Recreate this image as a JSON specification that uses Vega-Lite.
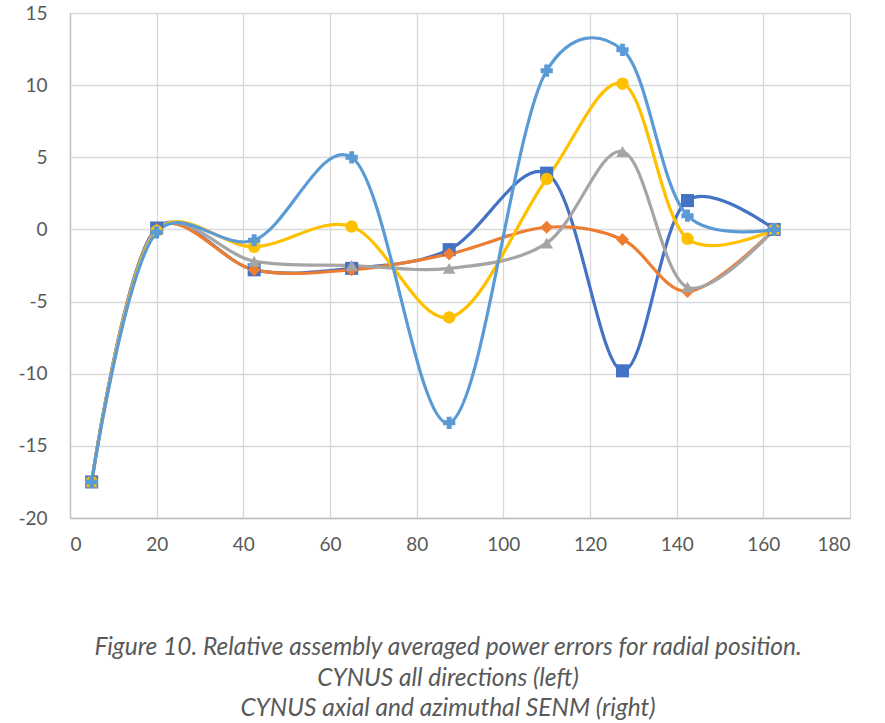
{
  "$schema": "https://vega.github.io/schema/vega-lite/v6.json",
  "width": 780,
  "height": 505,
  "autosize": "none",
  "padding": {"left": 70, "top": 13, "right": 35, "bottom": 205},
  "background": "white",
  "config": {"view": {"stroke": null}, "font": "Lato"},
  "title": {
    "text": ["Figure 10. Relative assembly averaged power errors for radial position.", "CYNUS all directions (left)", "CYNUS axial and azimuthal SENM (right)"],
    "orient": "bottom",
    "anchor": "middle",
    "dx": -12,
    "offset": 82,
    "font": "Lato",
    "fontSize": 24.5,
    "fontStyle": "italic",
    "fontWeight": "normal",
    "color": "#595959",
    "lineHeight": 30.5
  },
  "data": {"values": [
    {"s": "s1", "x": 5, "y": -17.5}, {"s": "s1", "x": 20, "y": 0.1}, {"s": "s1", "x": 42.5, "y": -2.8}, {"s": "s1", "x": 65, "y": -2.7}, {"s": "s1", "x": 87.5, "y": -1.4}, {"s": "s1", "x": 110, "y": 3.9}, {"s": "s1", "x": 127.5, "y": -9.8}, {"s": "s1", "x": 142.5, "y": 2.0}, {"s": "s1", "x": 162.5, "y": 0},
    {"s": "s2", "x": 5, "y": -17.5}, {"s": "s2", "x": 20, "y": 0}, {"s": "s2", "x": 42.5, "y": -2.8}, {"s": "s2", "x": 65, "y": -2.8}, {"s": "s2", "x": 87.5, "y": -1.7}, {"s": "s2", "x": 110, "y": 0.15}, {"s": "s2", "x": 127.5, "y": -0.7}, {"s": "s2", "x": 142.5, "y": -4.3}, {"s": "s2", "x": 162.5, "y": 0},
    {"s": "s3", "x": 5, "y": -17.5}, {"s": "s3", "x": 20, "y": 0}, {"s": "s3", "x": 42.5, "y": -2.2}, {"s": "s3", "x": 65, "y": -2.5}, {"s": "s3", "x": 87.5, "y": -2.7}, {"s": "s3", "x": 110, "y": -0.95}, {"s": "s3", "x": 127.5, "y": 5.4}, {"s": "s3", "x": 142.5, "y": -4.0}, {"s": "s3", "x": 162.5, "y": 0},
    {"s": "s4", "x": 5, "y": -17.5}, {"s": "s4", "x": 20, "y": -0.1}, {"s": "s4", "x": 42.5, "y": -1.2}, {"s": "s4", "x": 65, "y": 0.2}, {"s": "s4", "x": 87.5, "y": -6.1}, {"s": "s4", "x": 110, "y": 3.5}, {"s": "s4", "x": 127.5, "y": 10.1}, {"s": "s4", "x": 142.5, "y": -0.65}, {"s": "s4", "x": 162.5, "y": 0},
    {"s": "s5", "x": 5, "y": -17.5}, {"s": "s5", "x": 20, "y": -0.2}, {"s": "s5", "x": 42.5, "y": -0.75}, {"s": "s5", "x": 65, "y": 5.0}, {"s": "s5", "x": 87.5, "y": -13.4}, {"s": "s5", "x": 110, "y": 11.0}, {"s": "s5", "x": 127.5, "y": 12.45}, {"s": "s5", "x": 142.5, "y": 0.95}, {"s": "s5", "x": 162.5, "y": 0}
  ]},
  "encoding": {
    "x": {"field": "x", "type": "quantitative", "scale": {"domain": [0, 180], "nice": false, "zero": false},
      "axis": {"values": [0, 20, 40, 60, 80, 100, 120, 140, 160, 180], "labelExpr": "'' + datum.value", "title": null, "grid": true, "gridColor": "#d9d9d9", "gridWidth": 1.3, "domainColor": "#bfbfbf", "domainWidth": 1.3, "ticks": false, "labelPadding": 17, "labelFontSize": 19, "labelColor": "#595959", "labelFont": "Lato"}},
    "y": {"field": "y", "type": "quantitative", "scale": {"domain": [-20, 15], "nice": false, "zero": false},
      "axis": {"values": [-20, -15, -10, -5, 0, 5, 10, 15], "labelExpr": "'' + datum.value", "title": null, "grid": true, "gridColor": "#d9d9d9", "gridWidth": 1.3, "domainColor": "#bfbfbf", "domainWidth": 1.3, "ticks": false, "labelPadding": 23, "labelFontSize": 19, "labelColor": "#595959", "labelFont": "Lato"}},
    "color": {"field": "s", "type": "nominal", "scale": {"domain": ["s1", "s2", "s3", "s4", "s5"], "range": ["#4472C4", "#ED7D31", "#A5A5A5", "#FFC000", "#5B9BD5"]}, "legend": null}
  },
  "layer": [
    {"mark": {"type": "line", "interpolate": "catmull-rom", "tension": 0.2, "strokeWidth": 3.2}},
    {"mark": {"type": "point", "filled": true, "opacity": 1},
      "encoding": {
        "shape": {"field": "s", "type": "nominal", "scale": {"domain": ["s1", "s2", "s3", "s4", "s5"], "range": ["square", "diamond", "triangle-up", "circle", "cross"]}, "legend": null},
        "size": {"field": "s", "type": "nominal", "scale": {"domain": ["s1", "s2", "s3", "s4", "s5"], "range": [170, 150, 160, 170, 160]}, "legend": null}
      }}
  ]
}
